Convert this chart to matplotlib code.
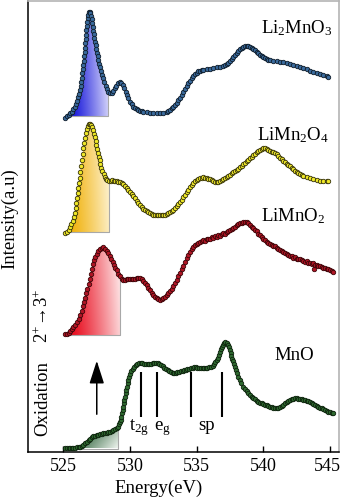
import numpy as np
import matplotlib
matplotlib.use("Agg")
import matplotlib.pyplot as plt
import matplotlib.transforms as mtransforms
from matplotlib.patches import Polygon

plt.rcParams['font.family'] = ['Liberation Serif', 'DejaVu Serif']
plt.rcParams['mathtext.fontset'] = 'custom'
plt.rcParams['mathtext.rm'] = 'Liberation Serif'
plt.rcParams['mathtext.default'] = 'regular'

# (energy eV, intensity a.u.), each above its own baseline
li2mno3 = [(525.13,-1.7),(525.25,0.0),(525.38,1.3),(525.50,2.7),(525.63,4.3),(525.75,6.7),(525.85,9.3),(525.95,12.3),(526.03,15.3),(526.10,18.7),(526.17,22.3),(526.23,26.3),(526.28,30.0),(526.33,34.3),(526.37,38.3),(526.41,42.7),(526.45,47.0),(526.48,51.0),(526.52,55.3),(526.55,59.7),(526.58,64.0),(526.61,68.3),(526.64,72.7),(526.67,77.0),(526.70,81.3),(526.72,85.7),(526.75,90.3),(526.78,94.3),(526.81,98.0),(526.85,101.3),(526.90,103.7),(526.96,104.3),(527.02,103.0),(527.08,100.0),(527.13,96.7),(527.17,93.0),(527.21,89.3),(527.25,85.3),(527.29,81.7),(527.33,78.0),(527.37,74.3),(527.41,70.7),(527.46,67.0),(527.51,63.3),(527.56,59.7),(527.62,56.0),(527.69,52.3),(527.76,48.7),(527.84,45.0),(527.92,41.3),(528.00,37.7),(528.08,34.0),(528.16,30.3),(528.25,27.0),(528.38,24.0),(528.50,22.7),(528.63,23.3),(528.75,25.3),(528.85,27.7),(528.95,30.3),(529.08,32.7),(529.22,34.0),(529.35,33.3),(529.47,31.0),(529.58,27.7),(529.67,24.3),(529.76,21.0),(529.87,17.7),(530.00,14.3),(530.13,11.7),(530.25,9.3),(530.38,8.0),(530.50,6.7),(530.63,6.0),(530.75,5.3),(530.88,5.0),(531.00,4.3),(531.25,4.0),(531.50,3.3),(531.75,3.0),(532.00,2.7),(532.25,3.0),(532.50,3.3),(532.75,4.0),(532.88,5.0),(533.00,6.0),(533.13,7.7),(533.25,9.3),(533.38,11.3),(533.50,13.3),(533.63,15.7),(533.75,18.3),(533.88,21.0),(534.00,23.7),(534.13,26.7),(534.25,29.7),(534.38,32.7),(534.50,35.3),(534.63,37.7),(534.75,40.0),(534.88,41.7),(535.00,43.3),(535.13,44.7),(535.25,45.3),(535.38,46.0),(535.50,46.3),(535.75,47.0),(536.00,47.3),(536.25,48.0),(536.50,48.7),(536.75,49.3),(537.00,50.3),(537.13,51.0),(537.25,52.0),(537.38,53.0),(537.50,55.0),(537.63,57.0),(537.75,59.0),(537.88,61.0),(538.00,63.0),(538.13,65.0),(538.25,66.7),(538.38,68.3),(538.50,69.3),(538.63,70.0),(538.75,70.3),(538.88,70.0),(539.00,69.3),(539.13,68.3),(539.25,67.0),(539.38,65.7),(539.50,64.0),(539.63,62.7),(539.75,61.3),(539.88,60.0),(540.00,59.0),(540.13,58.0),(540.25,57.0),(540.38,56.0),(540.50,55.7),(540.75,55.0),(541.00,54.7),(541.25,54.0),(541.50,53.7),(541.75,53.0),(542.00,52.3),(542.25,51.0),(542.50,50.0),(542.75,49.0),(543.00,47.7),(543.25,46.7),(543.50,45.3),(543.75,44.3),(544.00,43.3),(544.25,42.0),(544.50,41.0),(544.75,40.0),(544.88,39.3)]

limn2o4 = [(525.13,-1.3),(525.25,0.5),(525.38,2.5),(525.50,5.0),(525.60,8.0),(525.70,11.5),(525.78,15.0),(525.85,19.5),(525.91,24.0),(525.96,29.0),(526.01,34.0),(526.06,39.0),(526.11,44.0),(526.16,49.0),(526.21,54.5),(526.26,60.0),(526.32,66.0),(526.38,72.0),(526.44,78.0),(526.50,84.0),(526.56,89.5),(526.62,94.5),(526.69,99.5),(526.76,103.0),(526.84,106.0),(526.92,107.8),(527.00,108.0),(527.08,107.2),(527.16,105.0),(527.23,102.0),(527.29,98.5),(527.35,95.0),(527.41,91.3),(527.47,87.5),(527.53,83.5),(527.59,79.5),(527.65,75.5),(527.71,72.0),(527.78,68.2),(527.85,64.5),(527.93,61.0),(528.01,58.0),(528.10,55.5),(528.20,53.5),(528.30,52.2),(528.42,51.5),(528.54,51.5),(528.66,52.0),(528.77,51.5),(528.88,51.0),(529.00,51.0),(529.13,50.5),(529.25,50.0),(529.38,49.5),(529.50,48.0),(529.63,46.5),(529.75,44.5),(529.88,42.5),(530.00,40.5),(530.13,38.5),(530.25,36.0),(530.38,34.0),(530.50,31.5),(530.63,29.0),(530.75,27.0),(530.88,25.0),(531.00,23.5),(531.13,22.0),(531.25,21.0),(531.38,20.0),(531.50,19.0),(531.63,18.0),(531.75,17.5),(531.88,17.0),(532.00,16.8),(532.13,16.6),(532.25,16.6),(532.38,16.8),(532.50,17.0),(532.63,17.5),(532.75,18.3),(532.88,19.2),(533.00,20.0),(533.13,21.0),(533.25,22.3),(533.38,24.0),(533.50,25.8),(533.63,27.8),(533.75,30.0),(533.88,32.5),(534.00,35.0),(534.13,37.5),(534.25,40.0),(534.38,42.5),(534.50,45.0),(534.63,47.3),(534.75,49.3),(534.88,51.0),(535.00,52.3),(535.13,53.3),(535.25,54.0),(535.38,54.5),(535.50,54.7),(535.63,54.5),(535.75,54.0),(535.88,53.5),(536.00,53.0),(536.13,52.2),(536.25,51.2),(536.38,50.5),(536.50,50.0),(536.63,50.3),(536.75,51.0),(536.88,52.3),(537.00,53.5),(537.13,54.5),(537.25,55.5),(537.38,56.5),(537.50,57.5),(537.63,58.7),(537.75,59.8),(537.88,60.8),(538.00,62.0),(538.13,63.3),(538.25,64.7),(538.38,66.2),(538.50,67.7),(538.63,69.2),(538.75,70.8),(538.88,72.3),(539.00,73.8),(539.13,75.3),(539.25,76.8),(539.38,78.2),(539.50,79.7),(539.63,81.0),(539.75,82.3),(539.88,83.3),(540.00,84.0),(540.13,84.0),(540.25,83.5),(540.38,82.5),(540.50,81.5),(540.63,80.5),(540.75,79.7),(540.88,79.0),(541.00,77.8),(541.13,76.2),(541.25,74.5),(541.38,72.8),(541.50,71.2),(541.63,69.7),(541.75,68.3),(541.88,67.3),(542.00,66.0),(542.13,64.5),(542.25,63.0),(542.38,61.5),(542.50,60.2),(542.63,59.0),(542.75,58.0),(542.88,57.3),(543.00,56.5),(543.25,55.0),(543.50,53.8),(543.75,52.8),(544.00,52.0),(544.25,51.3),(544.50,50.8),(544.75,50.7),(544.88,50.7)]

limno2 = [(525.13,1.0),(525.25,1.5),(525.38,2.5),(525.50,4.3),(525.63,6.0),(525.75,8.0),(525.88,10.3),(526.00,13.0),(526.13,16.5),(526.25,20.3),(526.36,24.5),(526.46,29.0),(526.55,33.5),(526.63,37.5),(526.71,42.0),(526.79,46.5),(526.88,51.0),(526.96,56.0),(527.04,61.5),(527.12,66.5),(527.21,71.0),(527.30,75.0),(527.40,78.5),(527.50,81.5),(527.62,84.0),(527.75,86.0),(527.88,87.5),(528.00,88.0),(528.12,86.5),(528.25,84.5),(528.38,82.0),(528.50,79.5),(528.60,76.5),(528.70,73.5),(528.80,70.5),(528.90,67.5),(529.00,65.0),(529.12,61.5),(529.25,58.7),(529.38,56.5),(529.50,55.3),(529.63,55.5),(529.75,56.0),(529.88,55.8),(530.00,56.3),(530.13,56.5),(530.25,56.0),(530.38,56.5),(530.50,57.0),(530.63,57.2),(530.75,57.0),(530.88,56.0),(531.00,54.5),(531.13,52.5),(531.25,50.0),(531.38,47.5),(531.50,45.0),(531.63,42.5),(531.75,40.5),(531.88,38.5),(532.00,37.0),(532.13,35.8),(532.25,35.3),(532.38,35.8),(532.50,36.8),(532.63,38.0),(532.75,40.0),(532.88,42.0),(533.00,44.0),(533.13,46.5),(533.25,49.3),(533.38,52.0),(533.50,55.5),(533.63,59.0),(533.75,62.5),(533.88,66.0),(534.00,69.5),(534.13,73.5),(534.25,77.0),(534.38,80.5),(534.50,83.5),(534.63,86.0),(534.75,88.5),(534.88,90.3),(535.00,91.5),(535.13,92.5),(535.25,93.5),(535.38,93.7),(535.50,95.0),(535.63,94.5),(535.75,96.0),(535.88,96.5),(536.00,96.0),(536.13,98.0),(536.25,97.5),(536.38,99.0),(536.50,98.5),(536.63,100.0),(536.75,99.5),(536.88,101.0),(537.00,102.0),(537.13,101.5),(537.25,103.0),(537.38,104.5),(537.50,105.0),(537.63,106.5),(537.75,107.5),(537.88,108.5),(538.00,110.0),(538.13,111.0),(538.25,112.0),(538.38,112.5),(538.50,113.5),(538.63,113.0),(538.75,113.3),(538.88,112.0),(539.00,110.3),(539.13,108.5),(539.25,107.0),(539.38,105.0),(539.50,103.7),(539.63,101.5),(539.75,100.0),(539.88,98.0),(540.00,96.5),(540.13,95.3),(540.25,93.0),(540.38,92.5),(540.50,91.0),(540.63,90.5),(540.75,89.5),(540.88,88.7),(541.00,87.0),(541.13,86.5),(541.25,85.0),(541.38,84.5),(541.50,83.0),(541.63,82.5),(541.75,81.0),(541.88,80.3),(542.00,79.5),(542.13,79.0),(542.25,77.5),(542.38,77.8),(542.50,76.5),(542.63,76.0),(542.75,75.8),(542.88,75.3),(543.00,74.0),(543.13,73.5),(543.25,73.8),(543.38,72.5),(543.50,72.0),(543.63,71.0),(543.75,72.5),(543.80,66.0),(543.88,70.3),(544.00,70.0),(544.13,68.8),(544.25,69.5),(544.38,68.0),(544.50,67.5),(544.63,67.0),(544.75,66.0),(544.88,66.5),(545.00,65.0),(545.13,64.0),(545.25,63.0)]

mno = [(525.13,0.2),(525.25,0.2),(525.38,0.2),(525.50,0.2),(525.63,0.3),(525.75,0.5),(525.88,0.8),(526.00,1.2),(526.13,1.6),(526.25,2.0),(526.38,2.5),(526.50,3.8),(526.63,5.3),(526.75,6.8),(526.88,8.3),(527.00,9.8),(527.13,11.2),(527.25,12.2),(527.38,13.0),(527.50,13.5),(527.63,14.0),(527.75,14.5),(527.88,15.0),(528.00,15.2),(528.13,15.6),(528.25,16.0),(528.38,16.5),(528.50,16.8),(528.63,17.5),(528.75,18.3),(528.88,19.2),(529.00,20.5),(529.10,21.8),(529.18,24.5),(529.25,26.5),(529.30,28.5),(529.35,32.0),(529.40,35.3),(529.45,38.5),(529.49,41.8),(529.54,45.2),(529.58,48.5),(529.62,51.8),(529.66,55.2),(529.70,58.5),(529.76,61.8),(529.82,65.2),(529.88,68.5),(529.95,71.5),(530.02,74.5),(530.10,77.3),(530.20,79.8),(530.30,82.0),(530.42,83.8),(530.55,85.0),(530.68,85.7),(530.80,85.8),(530.93,85.3),(531.06,84.7),(531.19,84.3),(531.31,84.3),(531.44,84.6),(531.56,85.0),(531.69,85.2),(531.81,85.3),(531.94,85.3),(532.06,85.2),(532.19,84.6),(532.31,83.6),(532.44,82.4),(532.56,81.0),(532.69,79.6),(532.81,78.3),(532.94,77.2),(533.06,76.5),(533.19,76.0),(533.31,75.8),(533.44,76.0),(533.56,76.5),(533.69,77.0),(533.81,77.5),(533.94,78.0),(534.06,78.5),(534.19,78.9),(534.31,79.3),(534.44,79.7),(534.56,80.2),(534.69,80.7),(534.81,81.1),(534.94,81.1),(535.06,80.8),(535.19,80.5),(535.31,80.3),(535.44,80.2),(535.56,80.2),(535.69,80.3),(535.81,80.6),(535.94,81.2),(536.06,82.0),(536.19,83.0),(536.31,84.5),(536.41,86.5),(536.50,88.5),(536.58,91.0),(536.65,94.0),(536.72,97.0),(536.79,99.5),(536.87,101.8),(536.95,104.0),(537.04,105.6),(537.13,106.2),(537.24,105.6),(537.33,104.0),(537.41,101.5),(537.48,99.0),(537.55,96.0),(537.61,93.0),(537.67,90.0),(537.73,87.5),(537.80,84.8),(537.88,81.8),(537.96,78.5),(538.04,75.3),(538.13,71.8),(538.23,68.8),(538.35,65.3),(538.50,61.8),(538.63,59.5),(538.75,57.5),(538.88,55.4),(539.00,53.5),(539.13,52.0),(539.25,50.5),(539.38,49.2),(539.50,48.0),(539.63,46.8),(539.75,45.9),(539.88,45.1),(540.00,44.4),(540.13,43.7),(540.25,43.1),(540.38,42.5),(540.50,41.9),(540.63,41.3),(540.75,40.8),(540.88,40.4),(541.00,40.2),(541.13,40.7),(541.25,41.6),(541.38,42.7),(541.50,43.9),(541.63,45.1),(541.75,46.3),(541.88,47.4),(542.00,48.4),(542.13,49.3),(542.25,49.9),(542.38,50.2),(542.50,50.2),(542.63,50.0),(542.75,49.7),(542.88,49.3),(543.00,48.9),(543.13,48.5),(543.25,47.9),(543.38,47.1),(543.50,46.2),(543.63,45.3),(543.75,44.4),(543.88,43.5),(544.00,42.6),(544.13,41.8),(544.25,41.0),(544.38,40.1),(544.50,39.3),(544.63,38.5),(544.75,37.8),(544.88,37.0),(545.00,36.3),(545.13,35.7),(545.25,35.2)]

names = ['Li$_2$MnO$_3$', 'LiMn$_2$O$_4$', 'LiMnO$_2$', 'MnO']
offsets = [336, 220, 117, 3.5]
face = ['#3a6a9c', '#efe828', '#b01525', '#2f6a30']
edge = ['#0e1c2a', '#35320a', '#3c0508', '#0c220c']
# pre-edge shaded window (eV)
windows = [(525.25, 528.38), (525.25, 528.42), (525.5, 529.25), (526.25, 529.10)]
grad_from = ['#0606d8', '#f0ae00', '#e8081a', '#1c552a']
grad_to = ['#f4f4ff', '#fff9e6', '#fff4f4', '#eef4ee']
name_x = [542.5, 542.25, 542.25, 542.3]
name_y = [418.7, 312, 230.7, 92]

# MnO feature markers
feat_e = [530.83, 532.0, 534.58, 536.93]
feat_lbl = [(530.69, 't$_{2g}$'), (532.4, 'e$_g$'), (535.75, 'sp')]

fig = plt.figure(figsize=(3.41, 5.0), dpi=100)
ax = fig.add_axes([0.081, 0.096, 0.913, 0.902])


def rgb(c):
    return np.array(matplotlib.colors.to_rgb(c))


for k, data in enumerate([li2mno3, limn2o4, limno2, mno]):
    e = np.array([p[0] for p in data])
    h = np.array([p[1] for p in data])
    base = offsets[k]
    lo, hi = windows[k]
    m = (e >= lo) & (e <= hi)
    em, hm = e[m], np.clip(h[m], 0, None)
    verts = np.column_stack([np.r_[em, em[::-1]],
                             np.r_[base + hm, np.full(len(em), base)]])
    poly = Polygon(verts, closed=True, facecolor='none', edgecolor='none')
    ax.add_patch(poly)
    xf = np.linspace(0, 1, 200)[None, :]
    yf = np.linspace(0, 1, 100)[:, None]
    if k == 3:
        t = np.clip(0.75 * xf + 0.35 * (1 - yf) - 0.1, 0, 1)
    else:
        t = np.clip(0.85 * xf ** 1.2 + 0.12 * yf, 0, 1)
    img = rgb(grad_from[k])[None, None, :] * (1 - t[..., None]) + \
        rgb(grad_to[k])[None, None, :] * t[..., None]
    im = ax.imshow(img, extent=[lo, hi, base, base + hm.max()], origin='lower',
                   aspect='auto', interpolation='bilinear', zorder=1)
    im.set_clip_path(poly)
    ax.plot([em[0], em[-1], em[-1]], [base, base, base + hm[-1]],
            color='#a8a8a8', lw=0.8, zorder=1.5)
    ax.plot(e, base + h, 'o', ms=3.2, mfc=face[k], mec=edge[k], mew=0.6,
            ls='none', zorder=3)
    ax.text(name_x[k], name_y[k], names[k], fontsize=13.5, ha='center',
            va='baseline')

ax.vlines(feat_e, 34.7, 80.3, color='black', lw=1.5, zorder=2)
for x, s in feat_lbl:
    ax.text(x, 22, s, fontsize=13.5, ha='center', va='baseline')

ax.annotate('', xy=(527.5, 94), xytext=(527.5, 35),
            arrowprops=dict(arrowstyle='-|>,head_length=1.4,head_width=0.45',
                            color='black', lw=1.1, mutation_scale=10))
ax.text(523.45, 53, 'Oxidation', rotation=90, fontsize=13.5, ha='center',
        va='center')
ax.text(523.45, 136, '2$^{+}$\u21923$^{+}$', rotation=90, fontsize=13.5,
        ha='center', va='center')

ax.set_xlim(522.31, 545.68)
ax.set_ylim(0, 451)
ax.set_xticks([525, 530, 535, 540, 545])
ax.set_yticks([])
ax.tick_params(axis='x', direction='in', length=4, width=1, pad=4,
               labelsize=13)
for s in ['left', 'bottom']:
    ax.spines[s].set_linewidth(1.1)
    ax.spines[s].set_color('black')
for s in ['top', 'right']:
    ax.spines[s].set_linewidth(1.2)
    ax.spines[s].set_color('#b4b4b4')

# keep the last tick label inside the picture
last = ax.get_xticklabels()[-1]
last.set_transform(last.get_transform() +
                   mtransforms.ScaledTranslation(-3 / 100, 0, fig.dpi_scale_trans))

# axis titles placed by hand, as in the figure
ax.text(0.42, -0.091, 'Energy(eV)', transform=ax.transAxes, fontsize=13.5,
        ha='center', va='baseline')
ax.text(-0.058, 0.517, 'Intensity(a.u)', transform=ax.transAxes,
        fontsize=13.5, rotation=90, ha='center', va='center')

fig.savefig('out.png', dpi=100)
